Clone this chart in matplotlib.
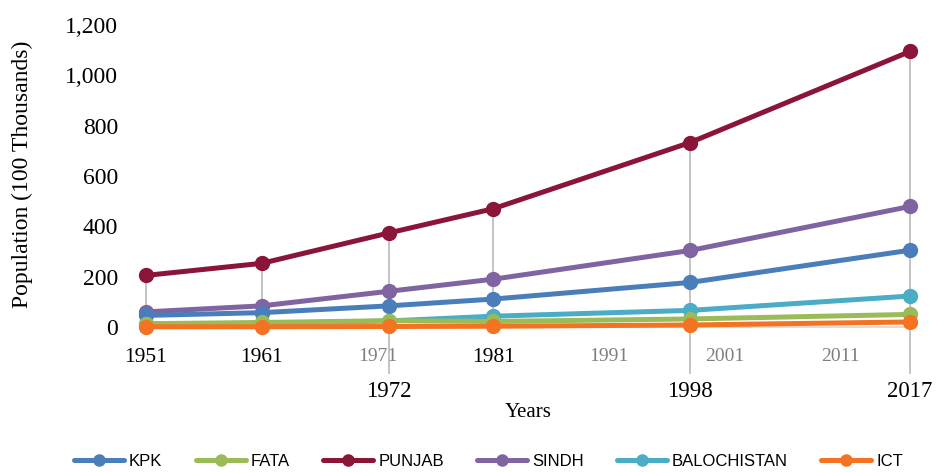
import matplotlib
matplotlib.use('Agg')
import matplotlib.pyplot as plt
from matplotlib.ticker import FuncFormatter

# census years and population (100 thousands)
years = [1951, 1961, 1972, 1981, 1998, 2017]
kpk = [46, 57, 84, 111, 177, 305]
fata = [13, 18, 25, 22, 32, 50]
punjab = [205, 253, 374, 470, 733, 1095]
sindh = [60, 84, 142, 190, 304, 479]
balochistan = [12, 14, 24, 43, 66, 123]
ict = [1, 1, 2, 3, 8, 20]

series_names = ['KPK', 'FATA', 'PUNJAB', 'SINDH', 'BALOCHISTAN', 'ICT']
series_values = [kpk, fata, punjab, sindh, balochistan, ict]
colors = ['#4A7EBB', '#9BBB59', '#8B1538', '#8064A2', '#4BACC6', '#F47323']

axis_years = list(range(1951, 2012, 10))
y_ticks = [0, 200, 400, 600, 800, 1000, 1200]

serif = ['Liberation Serif', 'DejaVu Serif']
sans = ['Liberation Sans Narrow', 'Liberation Sans', 'DejaVu Sans']

fig = plt.figure(figsize=(9.45, 4.72), dpi=100)
ax = fig.add_axes([0.1545, 0.3072, 0.8085, 0.6398])

# drop lines from the top series; leader lines for years off the axis ticks
for yr, top in zip(years, punjab):
    low = -0.152 if yr not in axis_years else 0.0
    ax.plot([yr, yr], [0, top], color='#BFBFBF', lw=1.3, zorder=1,
            clip_on=False)
    if low < 0:
        ax.plot([yr, yr], [low, 0], color='#BFBFBF', lw=1.3, zorder=1,
                clip_on=False, transform=ax.get_xaxis_transform())

# draw order so that small series sit on top like the reference
order = [2, 3, 0, 4, 1, 5]
handles = {}
for i in order:
    h, = ax.plot(years, series_values[i], color=colors[i], lw=3.6,
                 marker='o', markersize=10, label=series_names[i],
                 solid_capstyle='round', zorder=3 + order.index(i), clip_on=False)
    handles[i] = h

ax.set_xlim(1951, 2017)
ax.set_ylim(0, 1200)
ax.set_yticks(y_ticks)
ax.yaxis.set_major_formatter(FuncFormatter(lambda v, p: f'{int(v):,}'))

ax.set_xticks(axis_years)
ax.set_xticklabels([str(y) for y in axis_years])
for lab, yr in zip(ax.get_xticklabels(), axis_years):
    if yr in years:
        lab.set_color('black')
        lab.set_fontsize(15.5)
    else:
        lab.set_color('#7F7F7F')
        lab.set_fontsize(14)
    lab.set_fontfamily(serif)

# census years not on the axis ticks go lower
for yr in years:
    if yr not in axis_years:
        ax.text(yr, -0.215, str(yr), transform=ax.get_xaxis_transform(),
                ha='center', va='center', fontsize=16.5, family=serif)

for lab in ax.get_yticklabels():
    lab.set_fontfamily(serif)
    lab.set_fontsize(17)

ax.tick_params(axis='x', length=0, pad=15)
ax.tick_params(axis='y', length=0, pad=20)

for s in ['top', 'right', 'left']:
    ax.spines[s].set_visible(False)
ax.spines['bottom'].set_color('#D9D9D9')
ax.spines['bottom'].set_linewidth(1.3)

fig.text(0.5587, 0.127, 'Years', ha='center', va='center',
         fontsize=15, family=serif)
fig.text(0.024, 0.63, 'Population (100 Thousands)', rotation=90,
         ha='center', va='center', fontsize=17, family=serif)

leg = fig.legend([handles[i] for i in range(6)], series_names,
                 loc='center', bbox_to_anchor=(0.517, 0.022), ncol=6,
                 frameon=False, prop={'family': sans, 'size': 12},
                 handlelength=3.0, handletextpad=0.3, columnspacing=2.0,
                 markerscale=0.8)

fig.savefig('out.png', dpi=100)
